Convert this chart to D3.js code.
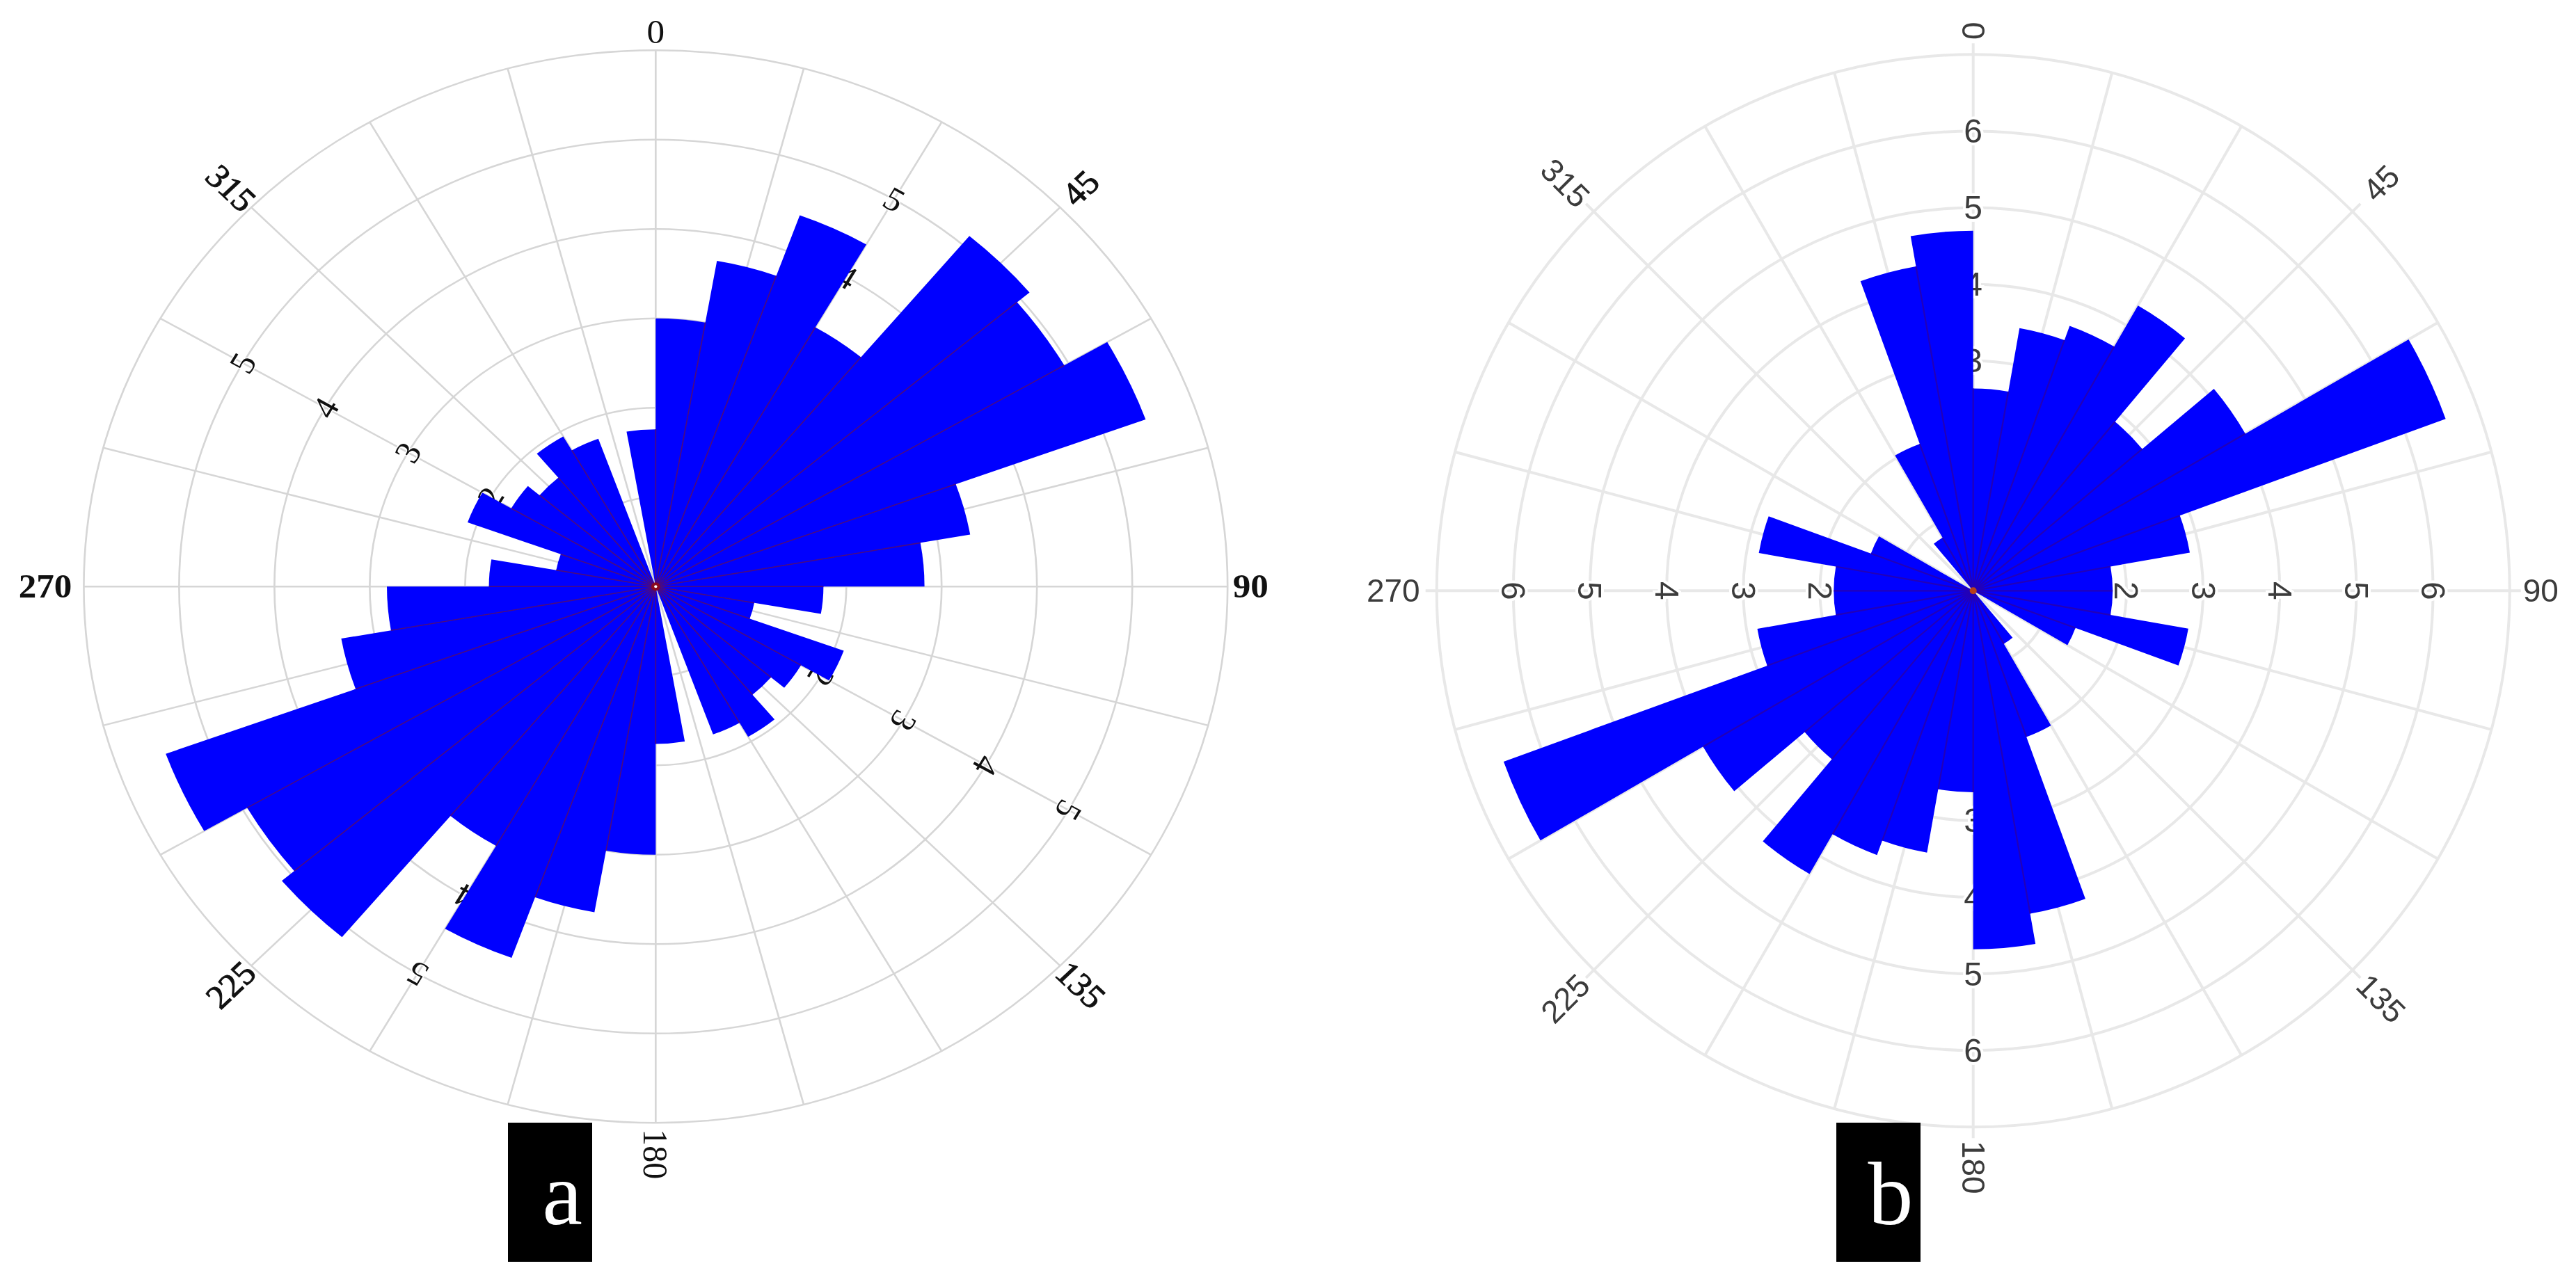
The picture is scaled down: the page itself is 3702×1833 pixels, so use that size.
<!DOCTYPE html>
<html>
<head>
<meta charset="utf-8">
<title>Rose diagrams</title>
<script src="https://cdn.jsdelivr.net/npm/d3@7"></script>
<style>
  html, body { margin: 0; padding: 0; background: #fff; }
  svg { display: block; }
</style>
</head>
<body>
<div id="chart"></div>
<script>
// 10 degree bins, clockwise from north
const valuesA = [
  3.0, 3.7, 4.42, 3.35, 5.12, 4.95, 5.47, 3.35, 2.82,
  1.76, 1.05, 2.1, 1.76, 1.58, 1.94, 1.76, 0, 1.76,
  3.0, 3.7, 4.42, 3.35, 5.12, 4.95, 5.47, 3.35, 2.82,
  1.75, 1.06, 2.1, 1.75, 1.59, 1.94, 1.76, 0, 1.76
];
const valuesB = [
  2.64, 3.48, 3.68, 4.3, 2.88, 4.1, 6.56, 2.87, 1.82,
  1.82, 2.85, 1.42, 0, 0, 0.8, 2.03, 4.28, 4.68,
  2.63, 3.47, 3.67, 4.27, 2.87, 4.07, 6.52, 2.86, 1.82,
  1.82, 2.84, 1.42, 0, 0, 0.8, 2.04, 4.3, 4.7
];
const spokeAngles = [0, 15, 30, 45, 60, 75, 90, 105, 120, 135, 150, 165, 180,
  195, 210, 225, 240, 255, 270, 285, 300, 315, 330, 345];
const directionLabels = [0, 45, 90, 135, 180, 225, 270, 315];
const radialTicksA = [1, 2, 3, 4, 5];
const radialTicksB = [1, 2, 3, 4, 5, 6];
const radialAxesA = [30, 120, 210, 300];
const radialAxesB = [0, 90, 180, 270];

const width = 3702;
const height = 1833;
const rad = d => d * Math.PI / 180;

const svg = d3.select('#chart').append('svg')
  .attr('width', width)
  .attr('height', height)
  .style('filter', 'blur(0.7px)');

function drawRose(o) {
  const r = d3.scaleLinear().domain([0, o.maxValue]).range([0, o.outer]);

  const g = svg.append('g')
    .attr('transform', `translate(${o.cx},${o.cy}) scale(${o.sx},1)`);

  // grid
  g.selectAll('circle.ring')
    .data(d3.range(1, o.maxValue + 1))
    .enter().append('circle')
    .attr('class', 'ring')
    .attr('r', d => r(d))
    .attr('fill', 'none')
    .attr('stroke', o.gridColor)
    .attr('stroke-width', o.gridWidth);

  const radial = d3.lineRadial().angle(d => rad(d[0])).radius(d => d[1]);

  g.selectAll('path.spoke')
    .data(spokeAngles)
    .enter().append('path')
    .attr('class', 'spoke')
    .attr('d', d => radial([[d, 0], [d, o.outer + (d % 45 === 0 ? o.spokeExtra : 0)]]))
    .attr('stroke', o.gridColor)
    .attr('stroke-width', o.gridWidth);

  // radial tick labels sit under the bars
  o.radialAxes.forEach(angle => {
    g.selectAll(null)
      .data(o.radialTicks)
      .enter().append('text')
      .attr('transform', d => {
        const p = d3.pointRadial(rad(angle), r(d));
        return `translate(${p[0]},${p[1]}) rotate(${o.tickRotate(angle)})`;
      })
      .attr('text-anchor', 'middle')
      .attr('dominant-baseline', 'central')
      .style('font-family', o.font)
      .style('font-size', o.tickSize + 'px')
      .style('fill', o.textColor)
      .style('stroke', '#fff')
      .style('stroke-width', o.halo)
      .style('paint-order', 'stroke')
      .text(d => d);
  });

  // bars
  const arc = d3.arc().innerRadius(0);
  g.selectAll('path.bar')
    .data(o.values)
    .enter().append('path')
    .attr('class', 'bar')
    .attr('d', (d, i) => arc({
      outerRadius: r(d),
      startAngle: rad(i * 10),
      endAngle: rad((i + 1) * 10)
    }))
    .attr('fill', '#0000ff');

  // dark seams between neighbouring bars
  g.selectAll('path.seam')
    .data(o.values)
    .enter().append('path')
    .attr('class', 'seam')
    .attr('d', (d, i) => {
      const prev = o.values[(i + o.values.length - 1) % o.values.length];
      return radial([[i * 10, 0], [i * 10, r(Math.min(d, prev))]]);
    })
    .attr('stroke', o.seamColor)
    .attr('stroke-width', o.seamWidth);

  g.append('circle').attr('r', o.dotR).attr('fill', o.dotColor);
  if (o.dotInner) g.append('circle').attr('r', o.dotInner).attr('fill', '#fff');

  // direction labels
  g.selectAll('text.dir')
    .data(directionLabels)
    .enter().append('text')
    .attr('class', 'dir')
    .attr('transform', d => {
      const p = d3.pointRadial(rad(d), o.labelR(d));
      return `translate(${p[0]},${p[1]}) rotate(${o.labelRotate(d)})`;
    })
    .attr('text-anchor', d => d === 90 ? 'start' : d === 270 ? 'end' : 'middle')
    .attr('dominant-baseline', 'central')
    .style('font-family', o.font)
    .style('font-size', o.labelSize + 'px')
    .style('font-weight', d => o.labelWeight(d))
    .style('fill', o.textColor)
    .style('stroke', o.textColor)
    .style('stroke-width', d => o.labelStroke(d))
    .text(d => d);

  // panel tag
  svg.append('rect')
    .attr('x', o.tag.x)
    .attr('y', 1614)
    .attr('width', o.tag.w)
    .attr('height', 200)
    .attr('fill', '#000');
  svg.append('text')
    .attr('x', o.tag.tx)
    .attr('y', 1760)
    .attr('text-anchor', 'middle')
    .style('font-family', '"Liberation Serif", serif')
    .style('font-size', '130px')
    .style('fill', '#fff')
    .text(o.tag.text);
}

const labelTilt = d => d === 0 || d === 180 ? 90 : d === 90 || d === 270 ? 0 : d % 180 === 45 ? -45 : 45;

drawRose({
  cx: 942.3, cy: 843.3, sx: 1.066, outer: 771, maxValue: 6,
  values: valuesA,
  radialAxes: radialAxesA, radialTicks: radialTicksA,
  tickRotate: a => a,
  font: '"Liberation Serif", serif', textColor: '#111',
  tickSize: 48, halo: 3,
  labelSize: 48,
  labelR: d => d === 90 ? 778 : d === 270 ? 787 : d === 0 ? 797 : d === 180 ? 816 : 810,
  labelRotate: d => d === 0 ? 0 : labelTilt(d),
  labelWeight: d => d === 90 || d === 270 ? 'bold' : 'normal',
  labelStroke: d => d === 0 || d === 180 || d === 90 || d === 270 ? 0 : 1,
  gridColor: '#d6d6d6', gridWidth: 2.5, spokeExtra: 0,
  seamColor: '#4a0a80', seamWidth: 1.6,
  dotR: 6, dotColor: '#8a0a20', dotInner: 2,
  tag: { x: 730, w: 121, tx: 808, text: 'a' }
});

drawRose({
  cx: 2835.7, cy: 849.3, sx: 1, outer: 771, maxValue: 7,
  values: valuesB,
  radialAxes: radialAxesB, radialTicks: radialTicksB,
  tickRotate: a => a % 180 === 0 ? 0 : 90,
  font: '"Liberation Sans", sans-serif', textColor: '#3c3c3c',
  tickSize: 48, halo: 8,
  labelSize: 46,
  labelR: d => d === 90 ? 790 : d === 270 ? 795 : d === 0 ? 805 : 829,
  labelRotate: labelTilt,
  labelWeight: () => 'normal',
  labelStroke: () => 0,
  gridColor: '#e8e8e8', gridWidth: 4, spokeExtra: 16,
  seamColor: '#2200b8', seamWidth: 2.2,
  dotR: 5, dotColor: '#b8401a',
  tag: { x: 2639, w: 121, tx: 2717, text: 'b' }
});
</script>
</body>
</html>
